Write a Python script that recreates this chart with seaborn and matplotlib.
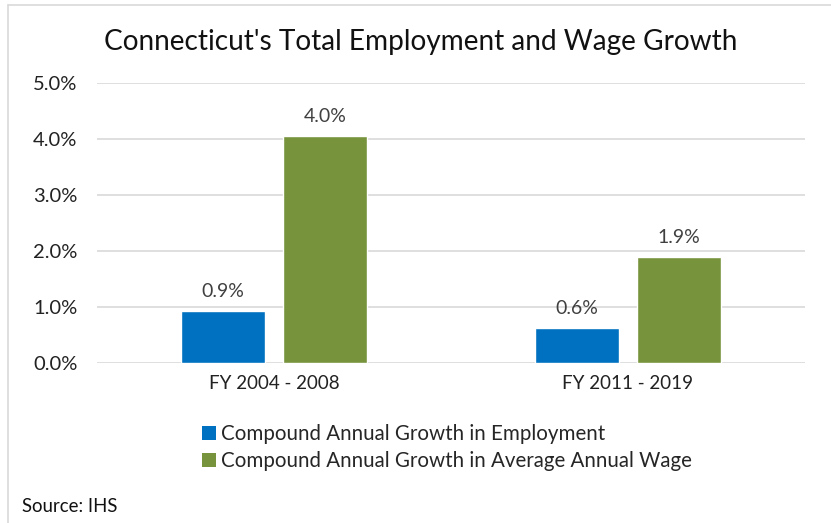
import matplotlib
matplotlib.use("Agg")
import matplotlib.pyplot as plt
import seaborn as sns
import pandas as pd
from matplotlib.lines import Line2D
from matplotlib.patches import Patch

periods = ["FY 2004 - 2008", "FY 2011 - 2019"]
employment = [0.93, 0.62]
wage = [4.04, 1.89]
series_names = ["Compound Annual Growth in Employment",
                "Compound Annual Growth in Average Annual Wage"]
yticks = [0, 1, 2, 3, 4, 5]
colors = ["#0070C0", "#77933C"]

df = pd.DataFrame({
    "period": periods * 2,
    "value": employment + wage,
    "series": [series_names[0]] * 2 + [series_names[1]] * 2,
})

sns.set_theme(style="white")
plt.rcParams["font.family"] = ["Lato", "DejaVu Sans"]

fig = plt.figure(figsize=(8.31, 5.23), dpi=100)
ax = fig.add_axes([97/831, 1 - 362.7/523, (805 - 97)/831, (362.7 - 82.7)/523])

sns.barplot(data=df, x="period", y="value", hue="series", palette=colors,
            width=0.576, gap=0.18, ax=ax, legend=False, saturation=1)

ax.set_xlim(-0.5, 1.5)
ax.set_ylim(0, 5)
ax.set_yticks(yticks)
ax.set_yticklabels([f"{t:.1f}%" for t in yticks], fontsize=14.5, color="#222222")
ax.tick_params(axis="x", labelsize=13.5, colors="#222222", length=0, pad=9)
ax.tick_params(axis="y", length=0, pad=14)
ax.set_xlabel("")
ax.set_ylabel("")
ax.grid(axis="y", color="#D9D9D9", linewidth=1.2)
ax.set_axisbelow(True)
for s in ax.spines.values():
    s.set_visible(False)

for cont in ax.containers:
    ax.bar_label(cont, labels=[f"{v:.1f}%" for v in cont.datavalues],
                 padding=8, fontsize=14, color="#404040")

fig.text(421/831, 1 - 42/523, "Connecticut's Total Employment and Wage Growth",
         ha="center", va="center", fontsize=20.2, color="#111111")

handles = [Patch(facecolor=c, edgecolor="none") for c in colors]
fig.legend(handles, series_names, loc="upper left",
           bbox_to_anchor=(192/831, 1 - 414/523), frameon=False,
           fontsize=14.8, handlelength=0.65, handleheight=0.65,
           handletextpad=0.25, labelspacing=0.35, borderpad=0)

fig.text(22/831, 1 - 507/523, "Source: IHS", ha="left", va="center",
         fontsize=13.4, color="#111111")

fig.add_artist(Line2D([8/831, 1], [1 - 5/523, 1 - 5/523], color="#D9D9D9", lw=1.2))
fig.add_artist(Line2D([8/831, 8/831], [0, 1 - 5/523], color="#D9D9D9", lw=1.2))

fig.savefig("out.png", dpi=100, facecolor="white")
